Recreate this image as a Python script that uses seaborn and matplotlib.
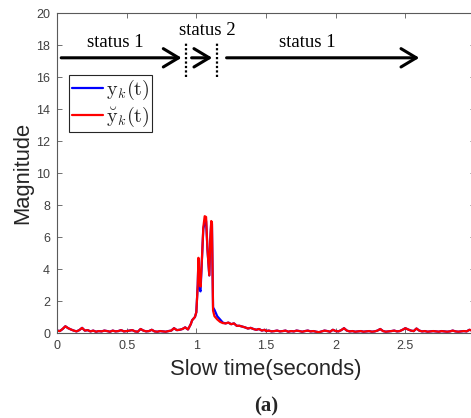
import numpy as np
import pandas as pd
import matplotlib
matplotlib.use("Agg")
import matplotlib.pyplot as plt
import seaborn as sns
from matplotlib.lines import Line2D

# ---------------- data ----------------
seg1_t = np.round(np.arange(0.0, 0.97, 0.02), 3)
seg1_val = [0.15, 0.12, 0.25, 0.42, 0.30, 0.22, 0.15, 0.10, 0.18, 0.32,
            0.15, 0.18, 0.10, 0.15, 0.08, 0.12, 0.10, 0.15, 0.12, 0.08,
            0.15, 0.10, 0.12, 0.18, 0.10, 0.12, 0.15, 0.18, 0.10, 0.08,
            0.25, 0.15, 0.10, 0.12, 0.20, 0.10, 0.08, 0.12, 0.10, 0.08,
            0.12, 0.15, 0.30, 0.18, 0.20, 0.25, 0.35, 0.22, 0.55]

peak_t = [0.97, 0.99, 1.00, 1.01, 1.015, 1.025, 1.03, 1.04, 1.05, 1.06,
          1.07, 1.08, 1.093, 1.10, 1.107, 1.112, 1.12, 1.13, 1.15, 1.17,
          1.19, 1.21, 1.23, 1.25, 1.27, 1.29, 1.31, 1.33, 1.35, 1.37,
          1.39, 1.41, 1.43, 1.45, 1.47, 1.49]
peak_red = [0.8, 1.0, 1.3, 3.0, 4.7, 3.2, 2.9, 4.6, 6.6, 7.3,
            7.25, 5.2, 3.6, 5.8, 7.0, 6.9, 1.4, 1.05, 0.85, 0.7,
            0.62, 0.6, 0.65, 0.55, 0.6, 0.45, 0.45, 0.4, 0.35, 0.28,
            0.32, 0.25, 0.2, 0.25, 0.15, 0.2]
peak_blue = [0.8, 1.0, 1.3, 3.0, 4.6, 2.7, 2.6, 4.5, 6.5, 6.9,
             7.0, 5.2, 3.6, 5.8, 6.9, 6.8, 1.6, 1.45, 1.05, 0.85,
             0.65, 0.6, 0.65, 0.55, 0.6, 0.45, 0.45, 0.4, 0.35, 0.28,
             0.32, 0.25, 0.2, 0.25, 0.15, 0.2]

seg3_t = np.round(np.arange(1.50, 2.99, 0.02), 3)
seg3_val = [0.12, 0.15, 0.10, 0.12, 0.15, 0.10, 0.12, 0.15, 0.08, 0.12,
            0.10, 0.15, 0.12, 0.08, 0.12, 0.15, 0.10, 0.12, 0.08, 0.05,
            0.10, 0.15, 0.12, 0.08, 0.20, 0.12, 0.10, 0.18, 0.30, 0.15,
            0.10, 0.12, 0.08, 0.10, 0.12, 0.08, 0.10, 0.12, 0.08, 0.10,
            0.15, 0.25, 0.12, 0.08, 0.10, 0.12, 0.15, 0.10, 0.12, 0.20,
            0.30, 0.22, 0.15, 0.12, 0.28, 0.15, 0.10, 0.12, 0.08, 0.10,
            0.12, 0.10, 0.08, 0.12, 0.10, 0.08, 0.10, 0.15, 0.10, 0.08,
            0.10, 0.12, 0.10, 0.20, 0.15]

xticks = [0, 0.5, 1, 1.5, 2, 2.5]
xticklabels = ["0", "0.5", "1", "1.5", "2", "2.5"]
yticks = [0, 2, 4, 6, 8, 10, 12, 14, 16, 18, 20]

status_labels = ["status 1", "status 2", "status 1"]
status_text_x = [0.416, 1.078, 1.80]
status_text_y = [18.15, 18.9, 18.15]
arrow_start = [0.03, 0.966, 1.217]
arrow_end = [0.894, 1.114, 2.60]
arrow_y = 17.2
divider_x = [0.925, 1.15]
divider_y = (16.0, 18.2)

series_labels = [r"$\mathrm{y}_k(\mathrm{t})$", r"$\breve{\mathrm{y}}_k(\mathrm{t})$"]

# ---------------- build dataframe ----------------
t_all = np.concatenate([seg1_t, peak_t, seg3_t])
red_all = np.concatenate([seg1_val, peak_red, seg3_val])
blue_all = np.concatenate([seg1_val, peak_blue, seg3_val])
df = pd.concat([
    pd.DataFrame({"t": t_all, "value": blue_all, "series": "y"}),
    pd.DataFrame({"t": t_all, "value": red_all, "series": "ybreve"}),
], ignore_index=True)

# ---------------- plot ----------------
sns.set_theme(style="white")
plt.rcParams["font.family"] = ["Liberation Sans", "DejaVu Sans"]
plt.rcParams["mathtext.fontset"] = "cm"

fig = plt.figure(figsize=(4.71, 4.18), dpi=100)
ax = fig.add_axes([57 / 471, (418 - 333) / 418, (475 - 57) / 471, (333 - 13) / 418])

sns.lineplot(data=df, x="t", y="value", hue="series",
             hue_order=["y", "ybreve"],
             palette={"y": "#0000ff", "ybreve": "#ff0000"},
             estimator=None, sort=False, linewidth=1.6, legend=False, ax=ax)

ax.set_xlim(0, 3)
ax.set_ylim(0, 20)
ax.set_xticks(xticks)
ax.set_xticklabels(xticklabels)
ax.set_yticks(yticks)

spine_col = "#5a5a5a"
for s in ax.spines.values():
    s.set_color(spine_col)
    s.set_linewidth(0.8)
ax.tick_params(direction="in", length=3.5, width=0.6, color=spine_col,
               labelsize=9, labelcolor="#404040", top=True, right=True,
               bottom=True, left=True, pad=5)

ax.set_xlabel("Slow time(seconds)", fontsize=15.8, color="#262626", labelpad=5)
ax.set_ylabel("Magnitude", fontsize=15.8, color="#262626", labelpad=2)

# annotations
for x0, x1 in zip(arrow_start, arrow_end):
    ax.annotate("", xy=(x1, arrow_y), xytext=(x0, arrow_y),
                arrowprops=dict(arrowstyle="->,head_length=0.55,head_width=0.33",
                                lw=2.2, color="black", mutation_scale=20,
                                shrinkA=0, shrinkB=0))
for xd in divider_x:
    ax.plot([xd, xd], list(divider_y), color="black", lw=1.6,
            linestyle=(0, (1, 1)))
for lab, tx, ty in zip(status_labels, status_text_x, status_text_y):
    ax.text(tx, ty, lab, ha="center", va="center", fontsize=13.5,
            family="Liberation Serif", color="black")

handles = [Line2D([0], [0], color="#0000ff", lw=1.6),
           Line2D([0], [0], color="#ff0000", lw=1.6)]
leg = ax.legend(handles, series_labels, loc="upper left",
                bbox_to_anchor=((69 - 57) / 418, (333 - 75) / 320),
                borderaxespad=0, fontsize=14.5, handlelength=1.55,
                handletextpad=0.12, borderpad=0.15, labelspacing=0.15,
                frameon=True, fancybox=False, framealpha=1)
leg.get_frame().set_edgecolor("#262626")
leg.get_frame().set_linewidth(0.8)

fig.text(266 / 471, 1 - 406 / 418, "(a)", ha="center", va="center",
         fontsize=15, fontweight="bold", family="Liberation Serif")

fig.savefig("out.png", dpi=100)
